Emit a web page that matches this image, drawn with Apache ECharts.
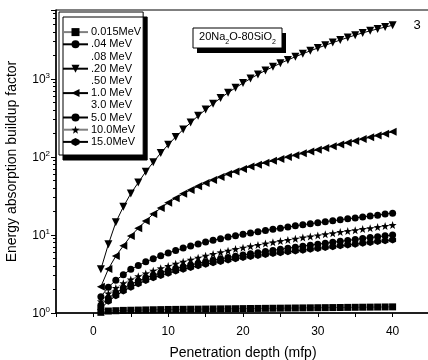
<!DOCTYPE html>
<html><head><meta charset="utf-8">
<script src="https://cdn.jsdelivr.net/npm/echarts@6/dist/echarts.min.js"></script>
<style>html,body{margin:0;padding:0;background:#fff}#c{width:428px;height:360px}</style>
</head><body><div id="c"></div>
<script>
var depth = [1,2,3,4,5,6,7,8,9,10,11,12,13,14,15,16,17,18,19,20,21,22,23,24,25,26,27,28,29,30,31,32,33,34,35,36,37,38,39,40];
var names = ['0.015MeV','.04 MeV','.08 MeV','.20 MeV','.50 MeV','1.0 MeV','3.0 MeV','5.0 MeV','10.0MeV','15.0MeV'];
var b0015 = [1.02,1.06,1.07,1.08,1.085,1.09,1.095,1.10,1.105,1.11,1.112,1.115,1.118,1.12,1.123,1.126,1.129,1.132,1.135,1.138,1.141,1.144,1.147,1.15,1.153,1.156,1.159,1.162,1.165,1.168,1.171,1.174,1.177,1.18,1.183,1.186,1.189,1.192,1.195,1.198];
var b004 = [1.26,1.55,1.82,2.09,2.34,2.57,2.82,3.05,3.27,3.49,3.71,3.92,4.13,4.34,4.54,4.74,4.94,5.14,5.33,5.53,5.73,5.93,6.14,6.34,6.55,6.76,6.97,7.18,7.4,7.62,7.83,8.05,8.28,8.51,8.75,8.99,9.25,9.48,9.73,10.0];
var b020 = [3.63,7.59,14.5,22.9,33.9,46.8,64.6,85.1,112,143,180,224,275,335,403,480,566,662,767,881,1005,1138,1276,1422,1578,1742,1914,2094,2280,2477,2685,2904,3133,3373,3622,3870,4110,4350,4590,4850];
var b10 = [2.17,3.66,5.37,7.24,9.7,12.2,15.1,18.6,22.1,25.8,29.6,33.6,37.7,41.9,46.2,50.7,55.3,60.1,65.0,70.0,75.0,79.4,84.1,88.9,94.0,99.3,105,111,117,123,130,137,144,152,160,169,178,188,198,209];
var b50 = [1.62,2.14,2.63,3.09,3.63,4.07,4.52,4.97,5.42,5.87,6.32,6.78,7.23,7.67,8.11,8.53,8.95,9.38,9.79,10.2,10.6,11.0,11.4,11.8,12.2,12.6,13.1,13.5,13.9,14.3,14.8,15.2,15.6,16.1,16.5,17.0,17.5,17.9,18.5,19.0];
var b100 = [1.41,1.78,2.09,2.40,2.69,2.95,3.21,3.47,3.73,4.0,4.27,4.54,4.82,5.1,5.4,5.69,5.98,6.28,6.58,6.87,7.16,7.45,7.74,8.04,8.34,8.63,8.93,9.25,9.55,9.86,10.2,10.5,10.9,11.2,11.5,11.9,12.2,12.6,13.0,13.4];
var b150 = [1.15,1.41,1.66,1.91,2.14,2.37,2.6,2.82,3.03,3.24,3.44,3.63,3.83,4.02,4.21,4.4,4.58,4.76,4.94,5.13,5.31,5.46,5.61,5.77,5.92,6.07,6.22,6.38,6.55,6.71,6.89,7.06,7.24,7.43,7.62,7.82,8.02,8.22,8.41,8.63];
var xTicks = [0,10,20,30,40];

function pairs(ys){ return depth.map(function(x,i){ return [x, ys[i]]; }); }
var FONT = 'Liberation Sans, Arial, sans-serif';
var STAR = 'path://M0,-10 L2.35,-3.24 L9.51,-3.09 L3.8,1.24 L5.88,8.09 L0,4 L-5.88,8.09 L-3.8,1.24 L-9.51,-3.09 L-2.35,-3.24 Z';
var HEX = 'path://M0,-10 L8.66,-5 L8.66,5 L0,10 L-8.66,5 L-8.66,-5 Z';

function ser(name, ys, symbol, size, lineColor, rot){
  return {
    name: name, type: 'line', data: ys ? pairs(ys) : [],
    symbol: symbol, symbolSize: size, symbolRotate: rot || 0,
    showSymbol: true, clip: false,
    itemStyle: {color: '#000', borderWidth: 0},
    lineStyle: {color: lineColor, width: 1},
    emphasis: {disabled: true}, animation: false, z: 3
  };
}
function ghost(name){
  return {name: name, type: 'line', data: [], symbol: 'none',
    itemStyle: {color: 'rgba(0,0,0,0)'}, lineStyle: {color: 'rgba(0,0,0,0)', width: 0}};
}

var chart = echarts.init(document.getElementById('c'), null, {renderer: 'canvas'});
chart.setOption({
  animation: false,
  textStyle: {fontFamily: FONT},
  grid: {left: 56, top: 10, width: 374, height: 303, containLabel: false, outerBoundsMode: 'none',
    show: true, borderColor: '#000', borderWidth: 1, backgroundColor: 'transparent'},
  legend: {
    orient: 'vertical', left: 59, top: 12,
    padding: [14, 2, 7, 3],
    itemWidth: 25, itemHeight: 10, itemGap: 0,
    borderColor: '#000', borderWidth: 1, backgroundColor: '#fff',
    shadowColor: '#000', shadowBlur: 0, shadowOffsetX: 4, shadowOffsetY: 5,
    textStyle: {fontFamily: FONT, fontSize: 11, color: '#000', lineHeight: 12.2, padding: [0,0,0,-2]},
    data: names, selectedMode: false
  },
  xAxis: {
    type: 'value', min: -5, max: 45, interval: 5,
    axisLine: {onZero: false, lineStyle: {color: '#000', width: 1.5}},
    axisTick: {inside: false, length: 4, lineStyle: {color: '#000', width: 1}},
    axisLabel: {margin: 13, fontSize: 12, color: '#000', fontFamily: FONT,
      formatter: function(v){ return xTicks.indexOf(v) >= 0 ? String(v) : ''; }},
    splitLine: {show: false},
    name: 'Penetration depth (mfp)', nameLocation: 'middle', nameGap: 33,
    nameTextStyle: {fontSize: 14, color: '#000', fontFamily: FONT}
  },
  yAxis: {
    type: 'log', logBase: 10, min: 1, max: 7600,
    axisLine: {show: true, onZero: false, lineStyle: {color: '#000', width: 1.5}},
    axisTick: {show: true, inside: false, length: 5, lineStyle: {color: '#000', width: 1}},
    minorTick: {show: true, splitNumber: 9, length: 3, lineStyle: {color: '#000', width: 1}},
    axisLabel: {margin: 6, color: '#000', fontFamily: FONT,
      formatter: function(v){
        var e = Math.log(v)/Math.LN10; var r = Math.round(e);
        if (Math.abs(e - r) > 1e-6) return '';
        return '{b|10}{s|' + r + '}';
      },
      rich: {b: {fontSize: 12, fontFamily: FONT, color: '#000', verticalAlign: 'bottom', lineHeight: 14},
             s: {fontSize: 8, fontFamily: FONT, color: '#000', verticalAlign: 'top', lineHeight: 14}}
    },
    splitLine: {show: false},
    name: 'Energy absorption buildup factor', nameLocation: 'middle', nameGap: 37,
    nameTextStyle: {fontSize: 14, color: '#000', fontFamily: FONT}
  },
  graphic: [
    {type: 'rect', shape: {x: 197, y: 33, width: 89, height: 20}, style: {fill: '#000'}, z: 10},
    {type: 'rect', shape: {x: 193, y: 28, width: 89, height: 20}, style: {fill: '#fff', stroke: '#000', lineWidth: 1}, z: 11},
    {type: 'text', x: 237.5, y: 38.5, z: 12,
      style: {text: '{n|20Na}{s|2}{n|O-80SiO}{s|2}', align: 'center', verticalAlign: 'middle',
        rich: {n: {fontSize: 11, fontFamily: FONT, fill: '#000', verticalAlign: 'top', lineHeight: 14},
               s: {fontSize: 7, fontFamily: FONT, fill: '#000', verticalAlign: 'bottom', lineHeight: 14}}}},
    {type: 'text', x: 417, y: 25, z: 12,
      style: {text: '3', fontSize: 13, fontFamily: FONT, fill: '#000', align: 'center', verticalAlign: 'middle'}}
  ],
  series: [
    ser(names[0], b0015, 'rect', 7, '#808080'),
    ser(names[1], b004, 'circle', 7, '#000'),
    ghost(names[2]),
    ser(names[3], b020, 'triangle', 8, '#000', 180),
    ghost(names[4]),
    ser(names[5], b10, 'triangle', 8, '#000', 90),
    ghost(names[6]),
    ser(names[7], b50, 'circle', 7, '#000'),
    ser(names[8], b100, STAR, 8, '#808080'),
    ser(names[9], b150, HEX, 7, '#000')
  ]
});
</script>
</body></html>
